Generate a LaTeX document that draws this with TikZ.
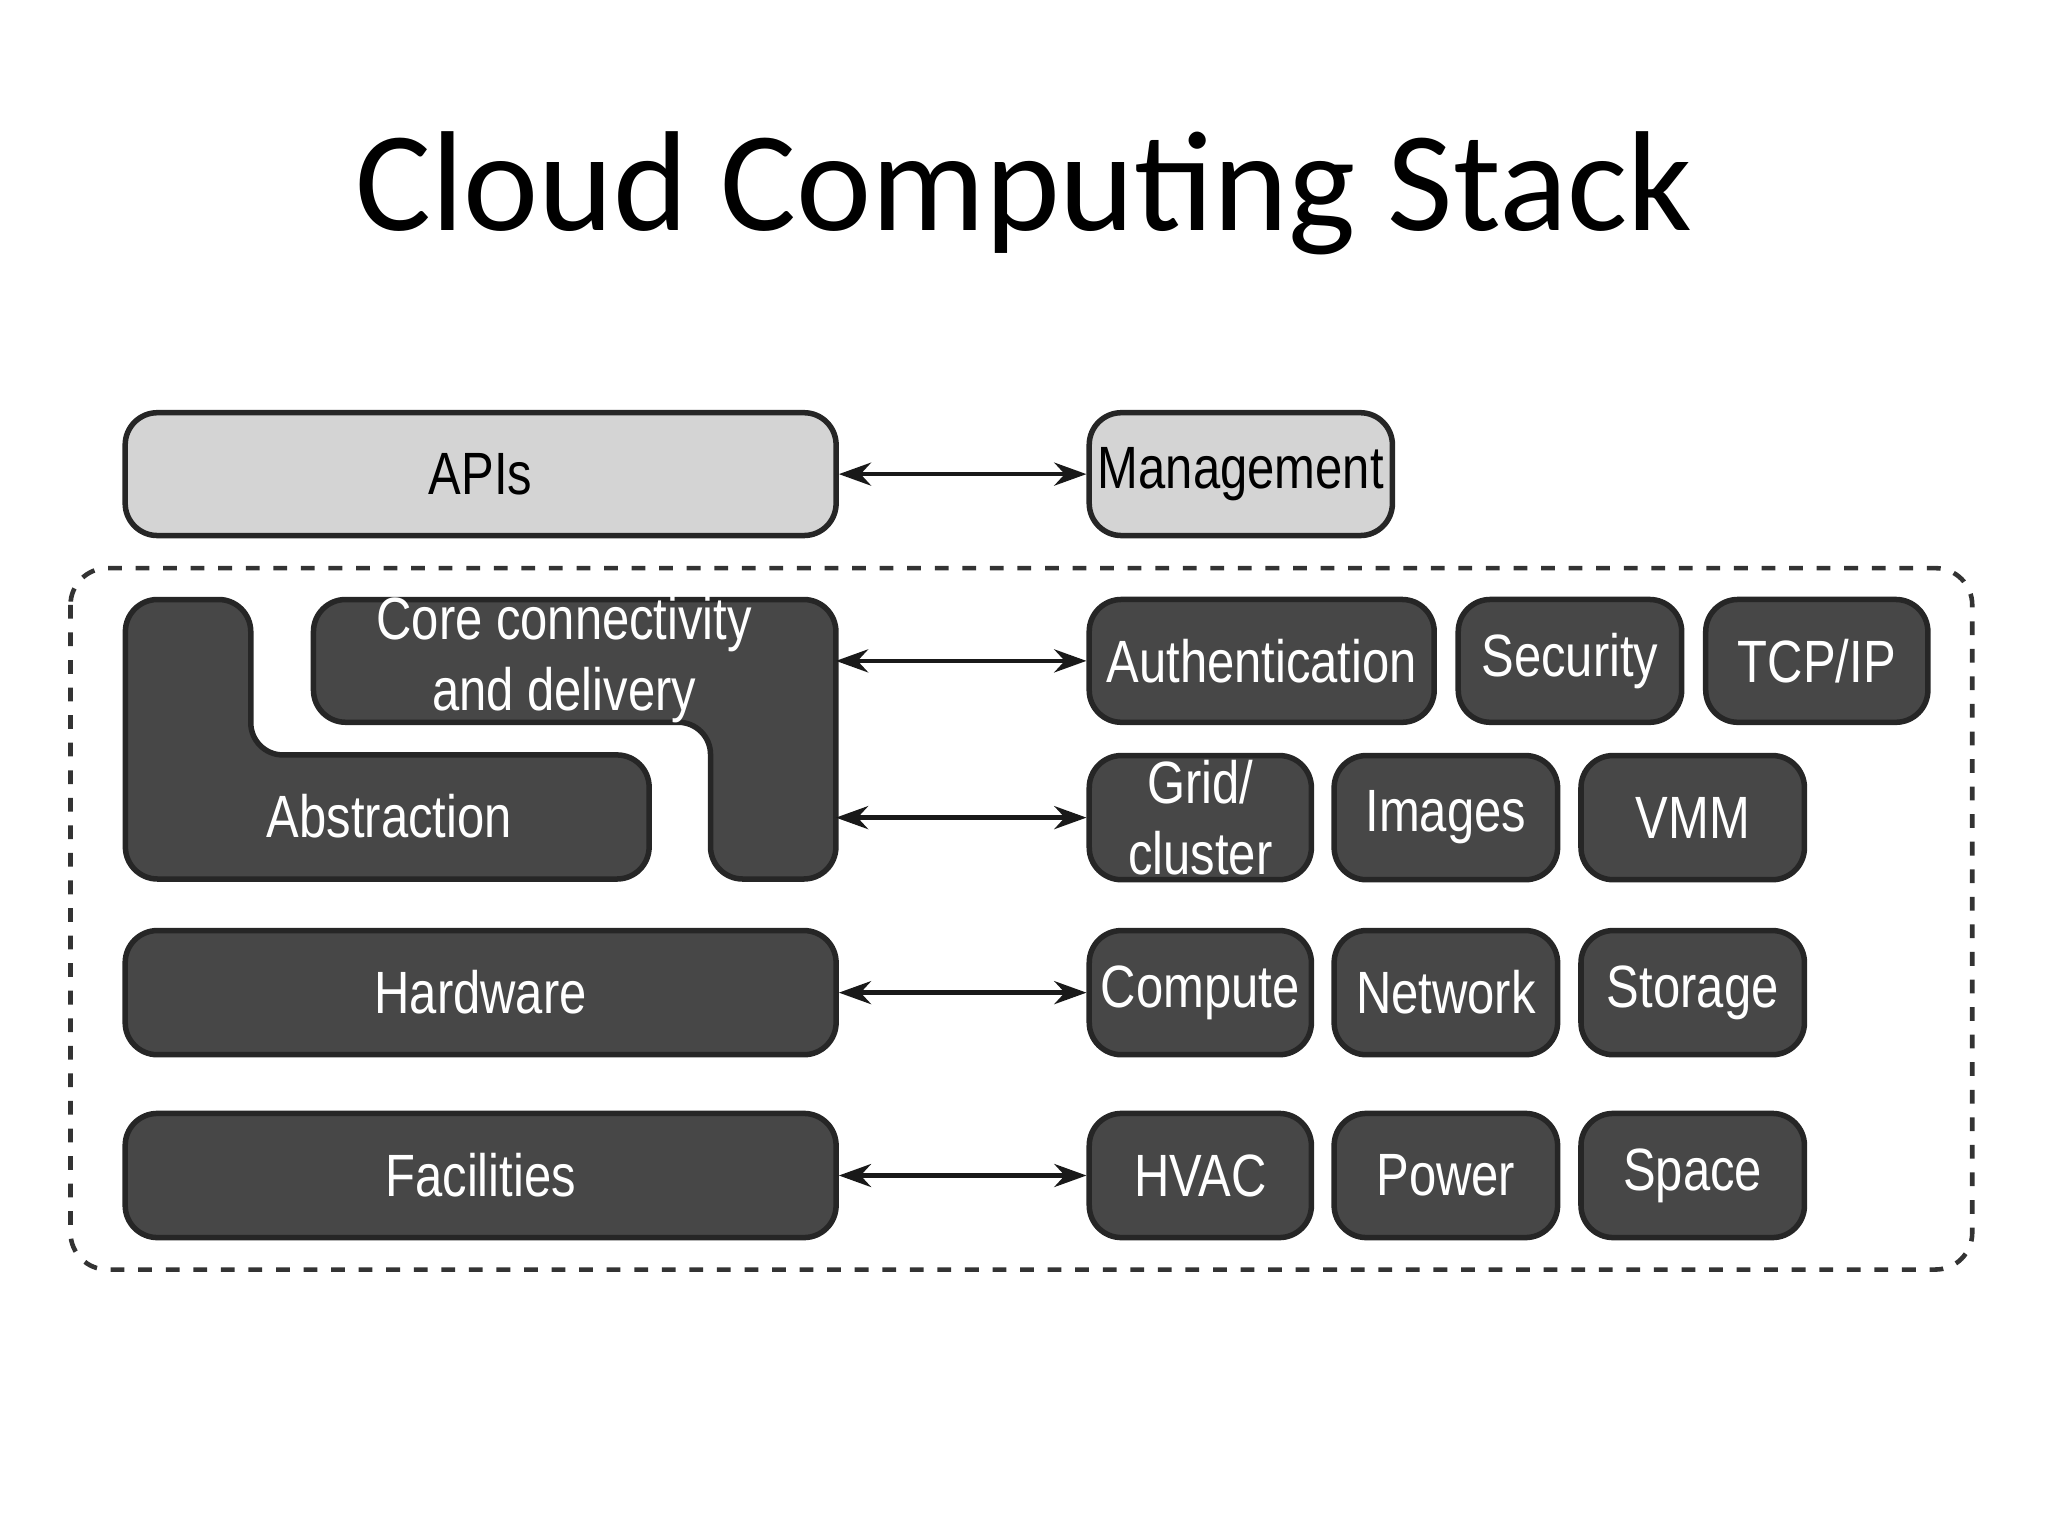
\documentclass[tikz,border=0pt]{standalone}
\usepackage{fontspec}
\setmainfont{Liberation Sans}[FakeStretch=0.82]
\newfontfamily\titlefont{Carlito}
\usetikzlibrary{arrows.meta}
\definecolor{dk}{HTML}{474747}
\definecolor{lt}{HTML}{D4D4D4}
\begin{document}
\begin{tikzpicture}[x=0.01cm,y=-0.01cm,
  box/.style={draw=black!85,line width=1.2pt,rounded corners=7pt,fill=dk,text=white,font=\fontsize{13}{15.5}\selectfont,align=center,inner sep=0pt},
  lbox/.style={box,fill=lt,text=black},
  arr/.style={{Stealth[length=7pt,width=5pt]}-{Stealth[length=7pt,width=5pt]},line width=1pt,black!90}]
\useasboundingbox (0,0) rectangle (1568,1176);
\node[font=\titlefont\fontsize{31}{36}\selectfont] (title) at (784,148) {Cloud Computing Stack};
\draw[dashed,line width=1pt,black!80,rounded corners=8pt] (54,435) rectangle (1510,972);
\newcommand\bx[6]{\node[#1,minimum width=#4*0.01cm-#2*0.01cm,minimum height=#6*0.01cm-#5*0.01cm] (#3) at ({(#2+#4)/2},{(#5+#6)/2}) {};}
% top
\node[lbox,minimum width=5.44cm,minimum height=0.94cm] (apis) at (368,363) {APIs};
\node[lbox,minimum width=2.32cm,minimum height=0.94cm] (mgmt) at (950,363) {Management};
% polygons
\draw[draw=black!85,line width=1.2pt,fill=dk,rounded corners=7pt] (240,459)--(640,459)--(640,673)--(544,673)--(544,553)--(240,553)--cycle;
\draw[draw=black!85,line width=1.2pt,fill=dk,rounded corners=7pt] (96,459)--(192,459)--(192,578)--(497,578)--(497,673)--(96,673)--cycle;
\node[text=white,font=\fontsize{13}{15.5}\selectfont,align=center] (core) at (432,505) {Core connectivity\\and delivery};
\node[text=white,font=\fontsize{13}{15.5}\selectfont] (abs) at (298,625) {Abstraction};
\coordinate (c1) at (640,506);
\coordinate (c2) at (640,626);
% right rows
\node[box,minimum width=2.64cm,minimum height=0.94cm] (auth) at (966,506) {Authentication};
\node[box,minimum width=1.71cm,minimum height=0.94cm] (sec) at (1202,506) {Security};
\node[box,minimum width=1.70cm,minimum height=0.94cm] (tcp) at (1391,506) {TCP/IP};
\node[box,minimum width=1.70cm,minimum height=0.95cm] (grid) at (919,626) {Grid/\\cluster};
\node[box,minimum width=1.71cm,minimum height=0.95cm] (img) at (1107,626) {Images};
\node[box,minimum width=1.71cm,minimum height=0.95cm] (vmm) at (1296,626) {VMM};
\node[box,minimum width=5.44cm,minimum height=0.95cm] (hw) at (368,760) {Hardware};
\node[box,minimum width=1.70cm,minimum height=0.95cm] (comp) at (919,760) {Compute};
\node[box,minimum width=1.71cm,minimum height=0.95cm] (net) at (1107,760) {Network};
\node[box,minimum width=1.71cm,minimum height=0.95cm] (sto) at (1296,760) {Storage};
\node[box,minimum width=5.44cm,minimum height=0.95cm] (fac) at (368,900) {Facilities};
\node[box,minimum width=1.70cm,minimum height=0.95cm] (hvac) at (919,900) {HVAC};
\node[box,minimum width=1.71cm,minimum height=0.95cm] (pow) at (1107,900) {Power};
\node[box,minimum width=1.71cm,minimum height=0.95cm] (spa) at (1296,900) {Space};
% arrows
\draw[arr] (apis) -- (mgmt);
\draw[arr] (c1) -- (auth);
\draw[arr] (c2) -- (grid);
\draw[arr] (hw) -- (comp);
\draw[arr] (fac) -- (hvac);
\end{tikzpicture}
\end{document}
